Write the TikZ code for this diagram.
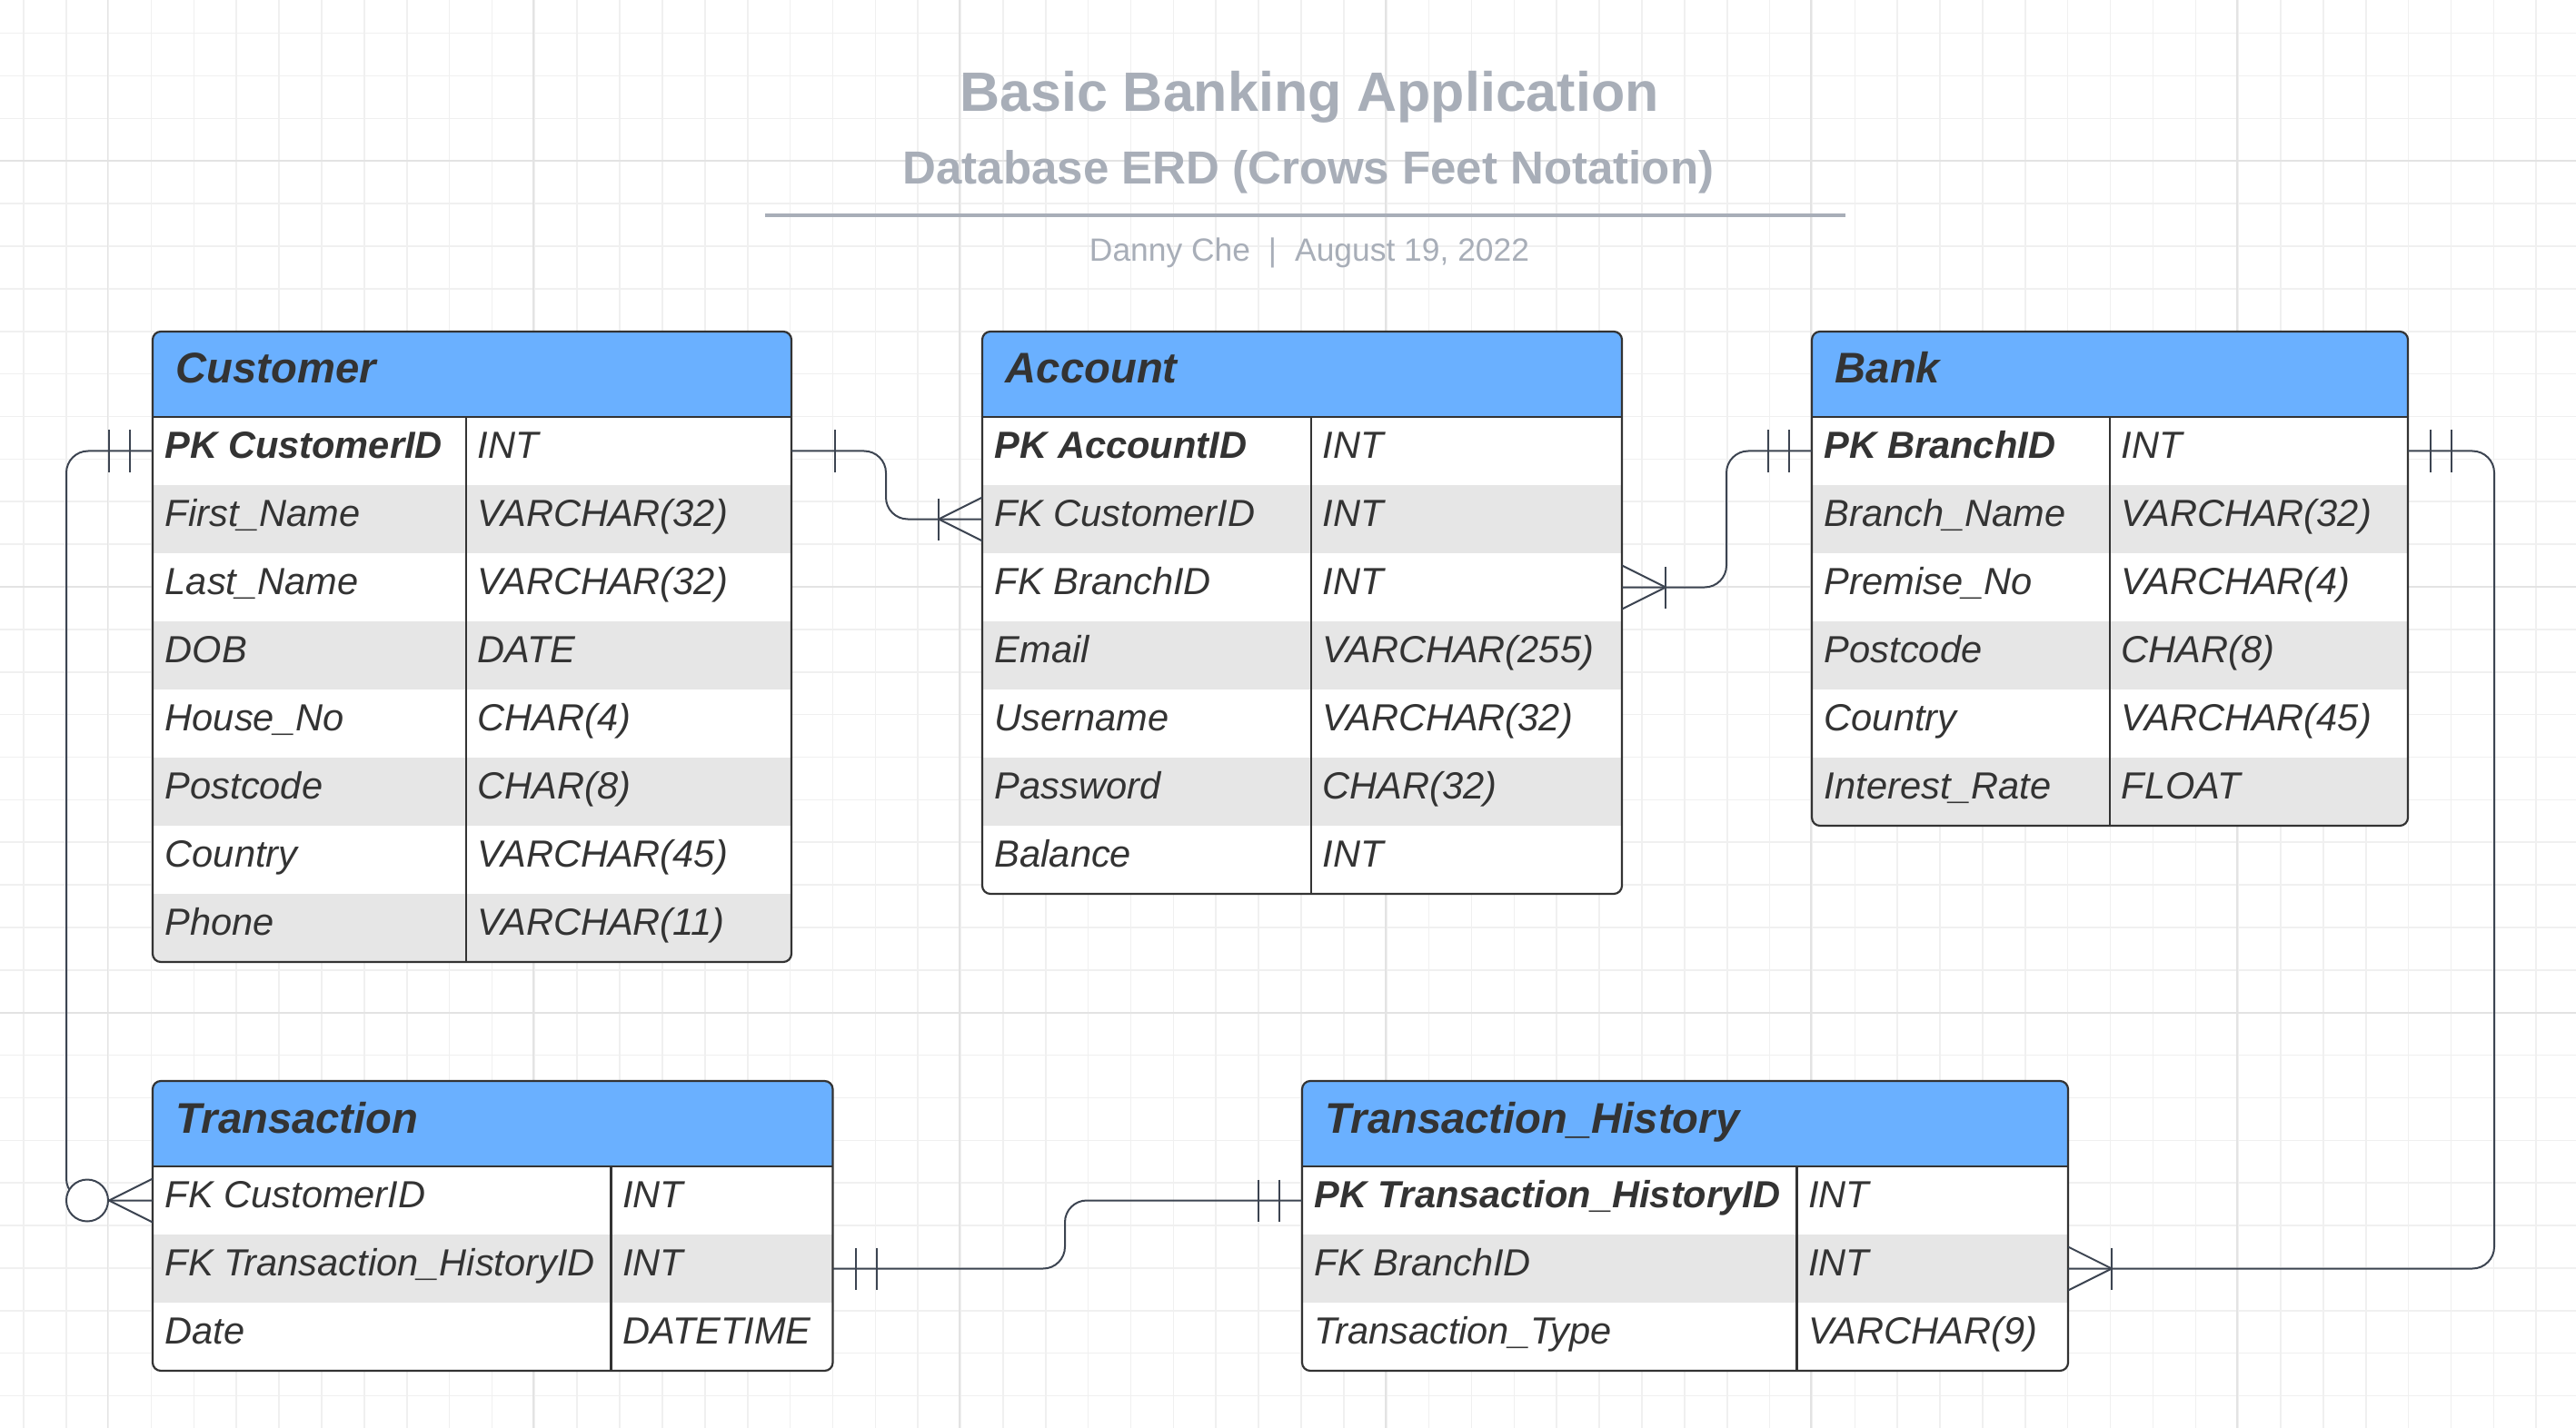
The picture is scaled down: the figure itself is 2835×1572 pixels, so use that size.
\documentclass[tikz,border=0pt]{standalone}
\usepackage{fontspec}
\setmainfont{Liberation Sans}
\usetikzlibrary{calc}

\definecolor{hdrblue}{HTML}{6AB0FF}
\definecolor{rowgrey}{HTML}{E6E6E6}
\definecolor{framecol}{HTML}{333333}
\definecolor{linkcol}{HTML}{3C4451}
\definecolor{titlecol}{HTML}{A8AEB8}
\definecolor{gridminor}{HTML}{F0F0F0}
\definecolor{gridmajor}{HTML}{E3E3E3}

\tikzset{
  rowbox/.style={rectangle, anchor=north west, inner sep=0pt, outer sep=0pt, minimum height=18.75pt},
  fieldtxt/.style={anchor=base west, inner sep=0pt, text=framecol, font=\fontsize{10.4}{12}\selectfont\itshape},
  headtxt/.style={anchor=base west, inner sep=0pt, text=framecol, font=\fontsize{11.8}{14}\selectfont\bfseries\itshape},
  frameline/.style={draw=framecol, line width=0.55pt},
  relline/.style={draw=linkcol, line width=0.5pt, rounded corners=6pt},
  notch/.style={draw=linkcol, line width=0.5pt},
  pics/onebar/.style={code={\draw[notch] (0,-23) -- (0,23);}},
  pics/crowfoot/.style={code={\draw[notch] (48,-24) -- (0,0) -- (48,24);}},
  pics/zeroring/.style={code={\draw[notch, fill=white] (0,0) circle[radius=5.75pt];}},
}

% name, left, divider, right, top, rows, title, fields
\newcommand{\erdtable}[8]{%
  \pgfmathsetmacro\tbot{#5+94+75*#6}
  \fill[white, rounded corners=2.25pt] (#2,#5) rectangle (#4,\tbot);
  \begin{scope}
    \clip[rounded corners=2.25pt] (#2,#5) rectangle (#4,\tbot);
    \fill[hdrblue] (#2,#5) rectangle (#4,#5+94);
    \foreach \fld/\typ [count=\r] in {#8} {
      \pgfmathsetmacro\rtop{#5+94+75*(\r-1)}
      \pgfmathtruncatemacro\rowpar{mod(\r,2)}
      \ifnum\rowpar=0 \fill[rowgrey] (#2,\rtop) rectangle (#4,\rtop+75); \fi
      \node[rowbox, minimum width={(#4-#2)*0.25pt}] (#1-\r) at (#2,\rtop) {};
      \node[fieldtxt] at (#2+13,\rtop+45.5) {\fld};
      \node[fieldtxt] at (#3+12,\rtop+45.5) {\typ};
    }
  \end{scope}
  \node[headtxt] (#1) at (#2+25,#5+57) {#7};
  \draw[frameline] (#3,#5+94) -- (#3,\tbot);
  \draw[frameline] (#2,#5+94) -- (#4,#5+94);
  \draw[frameline, rounded corners=2.25pt] (#2,#5) rectangle (#4,\tbot);
}

\begin{document}
\begin{tikzpicture}[x=0.25pt, y=-0.25pt]
\useasboundingbox (0,0) rectangle (2835,1572);
\fill[white] (0,0) rectangle (2835,1572);

% grid
\foreach \k in {0,...,60}
  \draw[gridminor, line width=0.4pt] ({25.9+46.87*\k},0) -- ({25.9+46.87*\k},1572);
\foreach \k in {0,...,33}
  \draw[gridminor, line width=0.4pt] (0,{36.7+46.87*\k}) -- (2835,{36.7+46.87*\k});
\foreach \k in {0,...,5}
  \draw[gridmajor, line width=0.45pt] ({118.5+468.7*\k},0) -- ({118.5+468.7*\k},1572);
\foreach \k in {0,...,2}
  \draw[gridmajor, line width=0.45pt] (0,{177.3+468.7*\k}) -- (2835,{177.3+468.7*\k});

% heading
\node[font=\fontsize{15.25}{18}\selectfont\bfseries, text=titlecol, anchor=base, inner sep=0pt] (title) at (1441,123) {Basic Banking Application};
\node[font=\fontsize{12.75}{15}\selectfont\bfseries, text=titlecol, anchor=base, inner sep=0pt] (subtitle) at (1440,203) {Database ERD (Crows Feet Notation)};
\draw[titlecol, line width=1.1pt] (842,237) -- (2031,237);
\node[font=\fontsize{8.85}{11}\selectfont, text=titlecol, anchor=base, inner sep=0pt] (byline) at (1441,288) {Danny Che\hspace{5pt}|\hspace{5pt}August 19, 2022};

% tables
\erdtable{cust}{168}{513}{871}{365}{8}{Customer}{
  {\textbf{PK CustomerID}}/INT, First\_Name/VARCHAR(32), Last\_Name/VARCHAR(32), DOB/DATE,
  House\_No/CHAR(4), Postcode/CHAR(8), Country/VARCHAR(45), Phone/VARCHAR(11)}
\erdtable{acct}{1081}{1443}{1785}{365}{7}{Account}{
  {\textbf{PK AccountID}}/INT, FK CustomerID/INT, FK BranchID/INT, Email/VARCHAR(255),
  Username/VARCHAR(32), Password/CHAR(32), Balance/INT}
\erdtable{bank}{1994}{2322}{2650}{365}{6}{Bank}{
  {\textbf{PK BranchID}}/INT, Branch\_Name/VARCHAR(32), Premise\_No/VARCHAR(4),
  Postcode/CHAR(8), Country/VARCHAR(45), Interest\_Rate/FLOAT}
\erdtable{trans}{168}{672.5}{916.5}{1190}{3}{Transaction}{
  FK CustomerID/INT, FK Transaction\_HistoryID/INT, Date/DATETIME}
\erdtable{hist}{1433}{1977.5}{2276}{1190}{3}{Transaction\_History}{
  {\textbf{PK Transaction\_HistoryID}}/INT, FK BranchID/INT, Transaction\_Type/VARCHAR(9)}

% relations
\draw[relline] (cust-1.west) -- ++(-95,0) |- (trans-1.west);
\draw[relline] (cust-1.east) -- ++(104,0) |- (acct-2.west);
\draw[relline] (acct-3.east) -- ++(115,0) |- (bank-1.west);
\draw[relline] (bank-1.east) -- ++(95,0) |- (hist-2.east);
\draw[relline] (trans-2.east) -- ++(255.5,0) |- (hist-1.west);

% cardinality marks
\path ($(cust-1.west)+(-25,0)$) pic{onebar} ($(cust-1.west)+(-48,0)$) pic{onebar};
\path ($(trans-1.west)+(-48,0)$) pic{crowfoot} ($(trans-1.west)+(-72,0)$) pic{zeroring};
\path ($(cust-1.east)+(48,0)$) pic{onebar};
\path ($(acct-2.west)+(-48,0)$) pic{crowfoot} ($(acct-2.west)+(-48,0)$) pic{onebar};
\path ($(acct-3.east)+(48,0)$) pic[rotate=180]{crowfoot} ($(acct-3.east)+(48,0)$) pic{onebar};
\path ($(bank-1.west)+(-48,0)$) pic{onebar} ($(bank-1.west)+(-25,0)$) pic{onebar};
\path ($(bank-1.east)+(25,0)$) pic{onebar} ($(bank-1.east)+(48,0)$) pic{onebar};
\path ($(hist-2.east)+(48,0)$) pic[rotate=180]{crowfoot} ($(hist-2.east)+(48,0)$) pic{onebar};
\path ($(trans-2.east)+(25,0)$) pic{onebar} ($(trans-2.east)+(48,0)$) pic{onebar};
\path ($(hist-1.west)+(-48,0)$) pic{onebar} ($(hist-1.west)+(-25,0)$) pic{onebar};
\end{tikzpicture}
\end{document}
